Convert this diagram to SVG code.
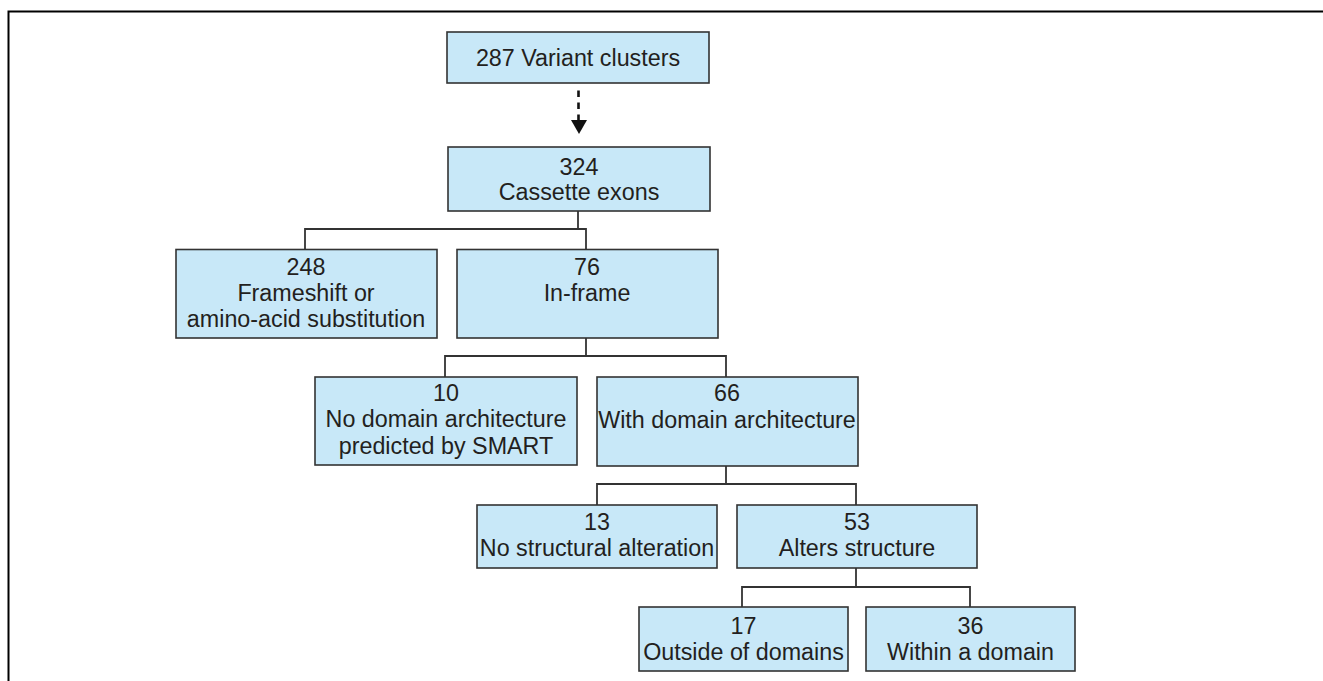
<svg xmlns="http://www.w3.org/2000/svg" width="1323" height="681" viewBox="0 0 1323 681">
<style>
.box{fill:#c8e8f8;stroke:#333;stroke-width:1.6}
.t{font-family:"Liberation Sans",Arial,sans-serif;font-size:23.3px;fill:#231f20;text-anchor:middle}
.c{fill:none;stroke:#333;stroke-width:1.8}
.frame{fill:none;stroke:#000;stroke-width:2}
</style>
<rect width="1323" height="681" fill="#fff"/>
<path class="frame" d="M8.5,681 V11.5 H1323"/>
<g id="connectors">
<line x1="578.5" y1="90.5" x2="578.5" y2="120" stroke="#111" stroke-width="2.6" stroke-dasharray="6.5,5.5"/>
<polygon points="571,120 587,120 579,134" fill="#111"/>
<path class="c" d="M578,211 V229 M305,249 V229 H586 V249"/>
<path class="c" d="M586,338 V356 M445,377 V356 H726 V377"/>
<path class="c" d="M726,466 V484 M597,505 V484 H856 V505"/>
<path class="c" d="M856,568 V587 M742,607 V587 H970 V607"/>
</g>
<g id="n287">
<rect class="box" x="447" y="32" width="262" height="51"/>
<text class="t" x="578" y="65.5">287 Variant clusters</text>
</g>
<g id="n324">
<rect class="box" x="448" y="147" width="262" height="64"/>
<text class="t" x="579" y="175">324</text>
<text class="t" x="579" y="199.5">Cassette exons</text>
</g>
<g id="n248">
<rect class="box" x="176" y="249.5" width="261" height="88.5"/>
<text class="t" x="306" y="275">248</text>
<text class="t" x="306" y="301">Frameshift or</text>
<text class="t" x="306" y="327">amino-acid substitution</text>
</g>
<g id="n76">
<rect class="box" x="457" y="249.5" width="261" height="88.5"/>
<text class="t" x="587" y="275">76</text>
<text class="t" x="587" y="301">In-frame</text>
</g>
<g id="n10">
<rect class="box" x="315" y="377" width="262" height="88"/>
<text class="t" x="446" y="400.5">10</text>
<text class="t" x="446" y="427">No domain architecture</text>
<text class="t" x="446" y="453.5">predicted by SMART</text>
</g>
<g id="n66">
<rect class="box" x="597" y="377" width="261" height="89"/>
<text class="t" x="727" y="401">66</text>
<text class="t" x="727" y="427.5">With domain architecture</text>
</g>
<g id="n13">
<rect class="box" x="477" y="505" width="240" height="63"/>
<text class="t" x="597" y="530">13</text>
<text class="t" x="597" y="555.5">No structural alteration</text>
</g>
<g id="n53">
<rect class="box" x="737" y="505" width="240" height="63"/>
<text class="t" x="857" y="530">53</text>
<text class="t" x="857" y="555.5">Alters structure</text>
</g>
<g id="n17">
<rect class="box" x="639" y="607" width="209" height="64"/>
<text class="t" x="743.5" y="634">17</text>
<text class="t" x="743.5" y="659.5">Outside of domains</text>
</g>
<g id="n36">
<rect class="box" x="866" y="607" width="209" height="64"/>
<text class="t" x="970.5" y="634">36</text>
<text class="t" x="970.5" y="659.5">Within a domain</text>
</g>
</svg>
